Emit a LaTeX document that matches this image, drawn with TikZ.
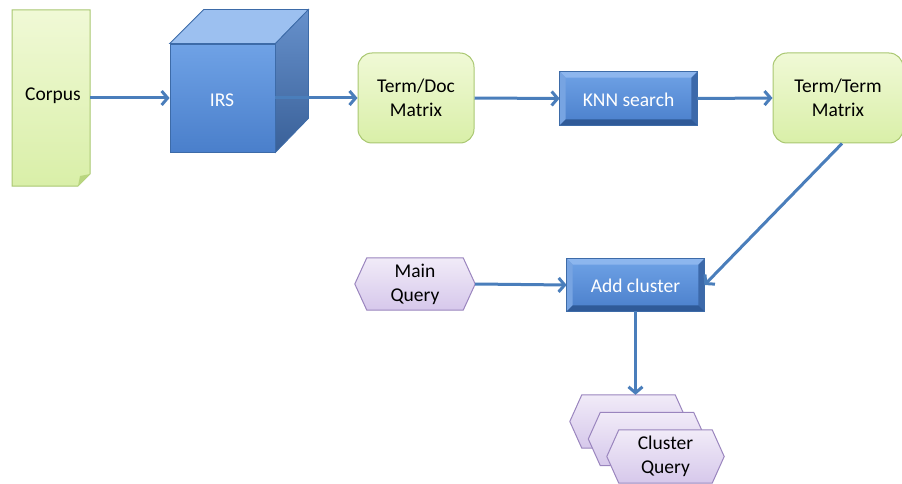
\documentclass[tikz,border=0pt]{standalone}
\usepackage{fontspec}
\setmainfont{Carlito}
\usetikzlibrary{arrows.meta,calc,backgrounds}

\definecolor{flow}{HTML}{4A7EBB}
\definecolor{greenline}{HTML}{A9C771}
\definecolor{greentop}{HTML}{F0F9D6}
\definecolor{greenbot}{HTML}{D9EFA8}
\definecolor{greenfold}{HTML}{B9D67F}
\definecolor{purpline}{HTML}{9A85BE}
\definecolor{purptop}{HTML}{F1EBF8}
\definecolor{purpbot}{HTML}{D6C8EB}
\definecolor{bluetop}{HTML}{6FA2E6}
\definecolor{bluebot}{HTML}{4A7FCB}
\definecolor{blueline}{HTML}{3D6BA8}
\definecolor{cubetop}{HTML}{9CC0F0}
\definecolor{cubeside}{HTML}{4371B3}
\definecolor{bevlight}{HTML}{8DB6EE}
\definecolor{bevleft}{HTML}{77A4E2}
\definecolor{bevright}{HTML}{3C69AA}
\definecolor{bevdark}{HTML}{2F5A98}

\tikzset{
  label font/.style={font=\fontsize{19.5}{24}\selectfont},
  greenbox/.style={label font, draw=greenline, line width=1pt, rounded corners=14pt,
    top color=greentop, bottom color=greenbot, align=center, inner sep=0pt},
  bevelbox/.style={label font, text=white, inner sep=0pt, draw=blueline, line width=0.8pt,
    top color=bluetop, bottom color=bluebot},
  hexnode/.style={label font, align=center, inner sep=0pt},
  hexfill/.style={draw=purpline, line width=1pt, top color=purptop, bottom color=purpbot},
  flowline/.style={draw=flow, line width=3pt, -{Straight Barb[length=6pt,width=14pt]}},
}

% bevel edges of a raised button
\newcommand\bevelrim[1]{%
  \fill[bevlight] (#1.north west) -- (#1.north east) -- ($(#1.north east)+(-6,6)$) -- ($(#1.north west)+(6,6)$) -- cycle;
  \fill[bevleft] (#1.north west) -- ($(#1.north west)+(6,6)$) -- ($(#1.south west)+(6,-6)$) -- (#1.south west) -- cycle;
  \fill[bevright] (#1.north east) -- ($(#1.north east)+(-6,6)$) -- ($(#1.south east)+(-6,-6)$) -- (#1.south east) -- cycle;
  \fill[bevdark] (#1.south west) -- ($(#1.south west)+(6,-6)$) -- ($(#1.south east)+(-6,-6)$) -- (#1.south east) -- cycle;
  \draw[blueline, line width=0.8pt] (#1.north west) rectangle (#1.south east);
}

% flat hexagon outline behind a node
\newcommand\hexagon[1]{%
  \path[hexfill] ($(#1.north west)+(12,0)$) -- ($(#1.north east)+(-12,0)$) -- (#1.east)
    -- ($(#1.south east)+(-12,0)$) -- ($(#1.south west)+(12,0)$) -- (#1.west) -- cycle;
}

\begin{document}
\begin{tikzpicture}[x=1pt,y=-1pt]
\useasboundingbox (0,0) rectangle (902,484);

% --- Corpus document ---
\path[draw=greenline, line width=1pt, top color=greentop, bottom color=greenbot]
  (12,10) -- (90,10) -- (90,174) -- (78,186) -- (12,186) -- cycle;
\fill[greenfold] (78,186) -- (80,176) -- (90,174) -- cycle;
\node[label font, minimum width=78pt, minimum height=176pt, inner sep=0pt] (corpus) at (51,98) {};
\node[label font] at (53,96) {Corpus};

% --- IRS cube ---
\node[label font, text=white, minimum width=105pt, minimum height=108pt, inner sep=0pt,
  top color=bluetop, bottom color=bluebot, draw=blueline, line width=0.8pt] (irs) at (222.5,98) {};
\path[draw=blueline, line width=0.8pt, fill=cubetop]
  (irs.north west) -- ($(irs.north west)+(34,-34)$) -- ($(irs.north east)+(33,-34)$) -- (irs.north east) -- cycle;
\path[draw=blueline, line width=0.8pt, top color=cubetop!40!cubeside, bottom color=cubeside!85!black]
  (irs.north east) -- ($(irs.north east)+(33,-34)$) -- ($(irs.south east)+(33,-34)$) -- (irs.south east) -- cycle;
\node[label font, text=white] at (222,100) {IRS};

% --- matrices and processing steps ---
\node[greenbox, minimum width=116pt, minimum height=90pt] (tdm) at (416,98) {Term/Doc\\Matrix};
\node[bevelbox, minimum width=137pt, minimum height=53pt] (knn) at (628.5,98.5) {};
\bevelrim{knn}
\node[label font, text=white] at (628.5,100) {KNN search};
\node[greenbox, minimum width=130pt, minimum height=90pt] (ttm) at (838,98) {Term/Term\\Matrix};

\node[bevelbox, minimum width=137pt, minimum height=52pt] (ac) at (635.5,285) {};
\bevelrim{ac}
\node[label font, text=white] at (635.5,286) {Add cluster};

% --- queries ---
\node[hexnode, minimum width=120pt, minimum height=52pt] (mq) at (415,284) {Main\\Query};
\node[hexnode, minimum width=117pt, minimum height=53pt] (cq1) at (628.5,421.5) {};
\node[hexnode, minimum width=117pt, minimum height=53pt] (cq2) at (647,439) {};
\node[hexnode, minimum width=117pt, minimum height=53pt] (cq3) at (665.5,456.5) {Cluster\\Query};
\begin{scope}[on background layer]
  \hexagon{mq}
  \hexagon{cq1}
  \hexagon{cq2}
  \hexagon{cq3}
\end{scope}

% --- connectors ---
\draw[flowline] (corpus.east) -- (irs.west);
\draw[flowline] (irs.east) -- (tdm.west);
\draw[flowline] (tdm.east) -- (knn.west);
\draw[flowline] (knn.east) -- (ttm.west);
\draw[flowline] ($(ttm.south)+(4,0)$) -- (ac.east);
\draw[flowline] (mq.east) -- (ac.west);
\draw[flowline] (ac.south) -- (ac.south |- cq1.north);
\end{tikzpicture}
\end{document}
